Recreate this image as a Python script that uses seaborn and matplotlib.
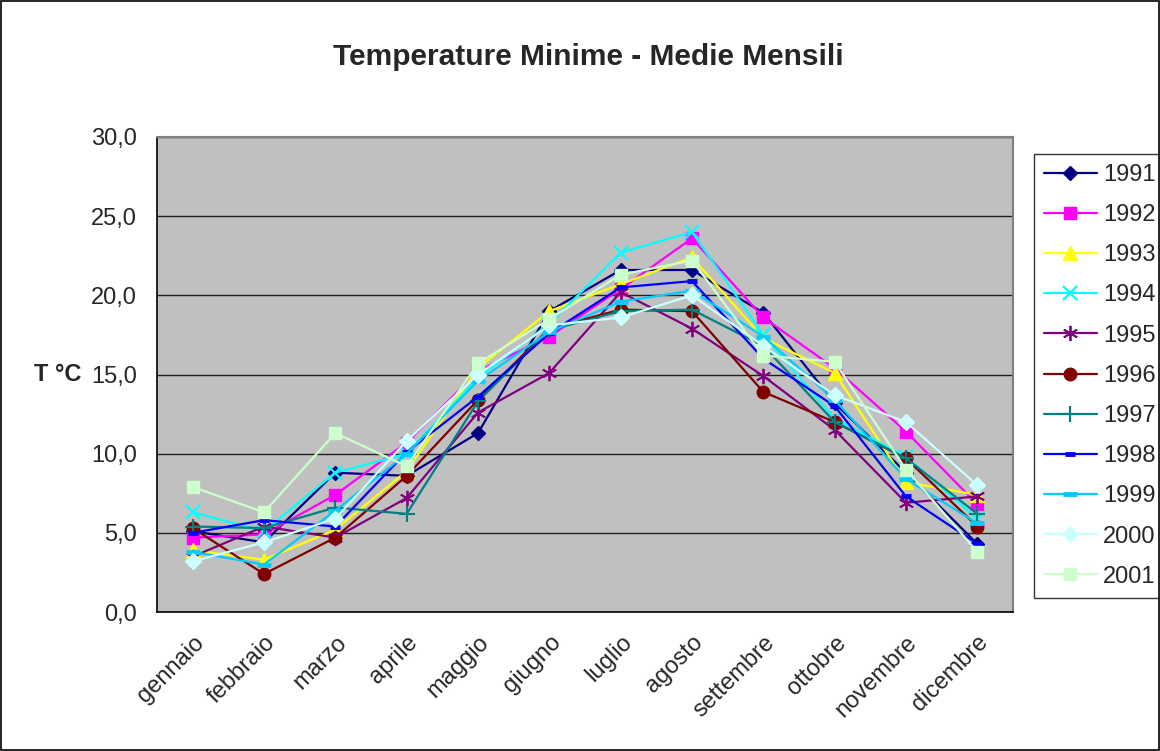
import matplotlib
matplotlib.use("Agg")
import matplotlib.pyplot as plt
import numpy as np
import pandas as pd
import seaborn as sns

# mesi e temperature minime medie per anno
mesi = ["gennaio", "febbraio", "marzo", "aprile", "maggio", "giugno",
        "luglio", "agosto", "settembre", "ottobre", "novembre", "dicembre"]

t1991 = [5.1, 4.4, 8.8, 8.6, 11.3, 19.0, 21.6, 21.6, 18.9, 13.2, 8.8, 4.3]
t1992 = [4.7, 4.9, 7.4, 10.7, 15.2, 17.4, 20.4, 23.6, 18.6, 15.4, 11.4, 6.8]
t1993 = [3.9, 3.3, 5.2, 8.9, 15.4, 19.0, 20.7, 22.4, 17.3, 15.1, 8.2, 7.4]
t1994 = [6.3, 5.1, 8.8, 10.0, 14.8, 18.2, 22.7, 24.0, 17.5, 12.2, 9.8, 5.9]
t1995 = [3.5, 5.4, 4.7, 7.2, 12.6, 15.1, 20.2, 17.9, 14.9, 11.5, 6.9, 7.3]
t1996 = [5.3, 2.4, 4.7, 8.6, 13.4, 17.9, 19.1, 19.0, 13.9, 12.0, 9.7, 5.4]
t1997 = [5.4, 5.3, 6.6, 6.2, 13.3, 17.8, 19.0, 19.1, 16.8, 12.0, 9.7, 6.2]
t1998 = [5.0, 5.8, 5.4, 10.1, 13.6, 17.6, 20.5, 20.9, 16.0, 13.0, 7.3, 4.3]
t1999 = [3.8, 3.0, 6.4, 10.0, 14.6, 17.7, 19.6, 20.3, 17.4, 13.4, 8.4, 5.6]
t2000 = [3.2, 4.4, 5.9, 10.8, 15.0, 18.1, 18.6, 20.0, 16.8, 13.7, 12.0, 8.0]
t2001 = [7.9, 6.3, 11.3, 9.2, 15.7, 18.5, 21.3, 22.2, 16.2, 15.8, 9.0, 3.8]

anni = ["1991", "1992", "1993", "1994", "1995", "1996",
        "1997", "1998", "1999", "2000", "2001"]
serie = [t1991, t1992, t1993, t1994, t1995, t1996,
         t1997, t1998, t1999, t2000, t2001]

# stile excel: colore, marcatore, dimensione
colori = ["#000080", "#FF00FF", "#FFFF00", "#00FFFF", "#800080", "#800000",
          "#008080", "#0000FF", "#00CCFF", "#CCFFFF", "#CCFFCC"]
marcatori = ["D", "s", "^", "x", (6, 2, 0), "o", "+", "_", "_", "D", "s"]
dimensioni = [7, 8.5, 9.5, 10, 11, 9, 11, 7, 10, 8, 9]
spessori = [1, 1, 1, 1.6, 1.3, 1, 1.5, 3.5, 3.5, 1, 1]

sns.set_style("white")
plt.rcParams['font.family'] = ['Liberation Sans', 'DejaVu Sans']

fig = plt.figure(figsize=(11.6, 7.51), dpi=100)
ax = fig.add_axes([157 / 1160, 1 - 612 / 751, 856 / 1160, 475 / 751])
ax.set_facecolor("#C0C0C0")

x = np.arange(len(mesi))
for i in range(len(anni)):
    sns.lineplot(x=x, y=serie[i], ax=ax, color=colori[i], marker=marcatori[i],
                 markersize=dimensioni[i], markeredgewidth=spessori[i],
                 markeredgecolor=colori[i], markerfacecolor=colori[i],
                 linewidth=1.6, label=anni[i], sort=False, zorder=3 + i * 0.01)

ax.set_xlim(-0.5, 11.5)
ax.set_ylim(0, 30)
ax.set_yticks(np.arange(0, 31, 5))
ax.set_yticklabels([f"{v:.1f}".replace(".", ",") for v in np.arange(0, 31, 5)],
                   fontsize=17)
ax.yaxis.grid(True, color="#202020", linewidth=1)
ax.set_axisbelow(True)

ax.set_xticks(x)
ax.set_xticklabels(mesi, rotation=45, ha="right", rotation_mode="anchor",
                   fontsize=17)
ax.set_xticks(np.arange(-0.5, 12, 1), minor=True)
ax.tick_params(axis="x", which="major", length=0, pad=14)
ax.tick_params(axis="x", which="minor", length=6, width=1, color="black",
               direction="out")
ax.tick_params(axis="y", length=6.5, width=1, color="black", direction="out",
               pad=8)

for s in ["left", "bottom"]:
    ax.spines[s].set_color("black")
    ax.spines[s].set_linewidth(1.2)
for s in ["top", "right"]:
    ax.spines[s].set_color("#808080")
    ax.spines[s].set_linewidth(1.5)

ax.set_xlabel("")
ax.set_ylabel("T °C", fontsize=17, fontweight="bold", rotation=0,
              va="center", ha="center")
ax.yaxis.set_label_coords(57.5 / 1160, 1 - 375 / 751, transform=fig.transFigure)

fig.suptitle("Temperature Minime - Medie Mensili", x=588 / 1160, y=1 - 57 / 751,
             fontsize=21.5, fontweight="bold", va="center")

leg = ax.legend(loc="upper left", bbox_to_anchor=(1034 / 1160, 1 - 154 / 751),
                bbox_transform=fig.transFigure, frameon=True, fontsize=17,
                fancybox=False, edgecolor="black", handlelength=2.25,
                labelspacing=0.77, borderpad=0.42, handletextpad=0.25,
                borderaxespad=0)
leg.get_frame().set_linewidth(1)

# cornice esterna
fig.patches.append(plt.Rectangle((0.001, 0.001), 0.998, 0.998, fill=False,
                                 edgecolor="black", linewidth=1.2,
                                 transform=fig.transFigure, figure=fig))

fig.savefig("out.png", dpi=100)
